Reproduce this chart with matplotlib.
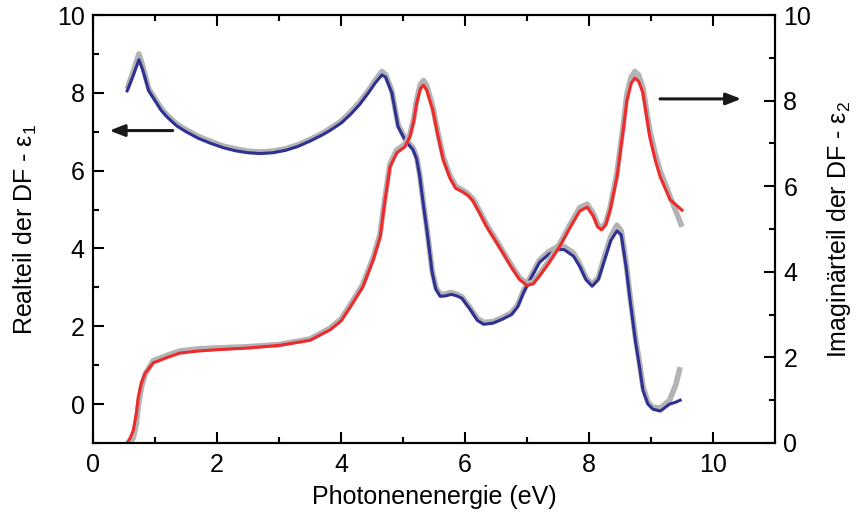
import numpy as np
import matplotlib
matplotlib.use('Agg')
import matplotlib.pyplot as plt
from matplotlib.ticker import MultipleLocator

plt.rcParams['font.family'] = ['Liberation Sans', 'DejaVu Sans']
plt.rcParams['mathtext.fontset'] = 'custom'
plt.rcParams['mathtext.rm'] = 'Liberation Sans'
plt.rcParams['mathtext.it'] = 'Liberation Sans'

# Realteil eps1: energy (eV), fit and measurement
e1_energy = [0.55, 0.65, 0.74, 0.80, 0.90, 1.0, 1.1, 1.2, 1.35, 1.5, 1.7, 1.9, 2.1, 2.3,
             2.5, 2.7, 2.9, 3.1, 3.3, 3.5, 3.7, 3.82, 4.0, 4.15, 4.3, 4.45, 4.55, 4.66,
             4.72, 4.82, 4.92, 5.03, 5.1, 5.16, 5.22, 5.27, 5.33, 5.39, 5.47, 5.53,
             5.6, 5.68, 5.78, 5.87, 5.95, 6.08, 6.2, 6.3, 6.45, 6.6, 6.75, 6.85, 6.94,
             7.05, 7.2, 7.35, 7.5, 7.6, 7.75, 7.85, 7.95, 8.05, 8.15, 8.25, 8.35, 8.45,
             8.52, 8.6, 8.66, 8.75, 8.82, 8.87, 8.95, 9.03, 9.15, 9.3, 9.4, 9.47]
e1_fit = [8.05, 8.45, 8.85, 8.6, 8.05, 7.8, 7.55, 7.37, 7.15, 7.0, 6.83, 6.7, 6.59, 6.51,
          6.46, 6.44, 6.46, 6.52, 6.62, 6.76, 6.92, 7.03, 7.22, 7.44, 7.7, 8.02, 8.25, 8.46,
          8.4, 8.0, 7.13, 6.79, 6.65, 6.54, 6.3, 5.85, 5.1, 4.41, 3.38, 2.95,
          2.77, 2.78, 2.82, 2.78, 2.72, 2.44, 2.15, 2.05, 2.08, 2.18, 2.3, 2.5, 2.85,
          3.2, 3.64, 3.85, 3.97, 3.97, 3.8, 3.54, 3.2, 3.03, 3.2, 3.7, 4.2, 4.45,
          4.35, 3.5, 2.7, 1.6, 0.9, 0.35, 0.0, -0.13, -0.18, 0.0, 0.05, 0.1]
e1_meas = [8.1, 8.55, 9.0, 8.7, 8.1, 7.85, 7.6, 7.42, 7.2, 7.05, 6.88, 6.75, 6.63, 6.56,
           6.5, 6.48, 6.5, 6.56, 6.66, 6.8, 6.96, 7.08, 7.27, 7.5, 7.76, 8.08, 8.32, 8.55,
           8.47, 8.05, 7.18, 6.84, 6.7, 6.59, 6.35, 5.9, 5.15, 4.46, 3.43, 3.0,
           2.82, 2.83, 2.87, 2.82, 2.76, 2.48, 2.2, 2.1, 2.12, 2.22, 2.35, 2.55, 2.9,
           3.25, 3.7, 3.92, 4.05, 4.05, 3.88, 3.6, 3.25, 3.08, 3.25, 3.8, 4.3, 4.6,
           4.45, 3.6, 2.8, 1.7, 1.0, 0.45, 0.05, -0.08, -0.1, 0.1, 0.5, 0.95]

# Imaginaerteil eps2
e2_energy = [0.55, 0.6, 0.65, 0.7, 0.73, 0.78, 0.84, 0.97, 1.2, 1.4, 1.7, 2.0, 2.5, 3.0,
             3.5, 3.82, 4.0, 4.15, 4.35, 4.52, 4.63, 4.71, 4.79, 4.9, 5.03, 5.11,
             5.17, 5.22, 5.28, 5.33, 5.38, 5.48, 5.56, 5.65, 5.76, 5.85, 5.97, 6.05,
             6.13, 6.25, 6.35, 6.5, 6.61, 6.75, 6.88, 7.0, 7.1, 7.2, 7.35, 7.53, 7.7,
             7.85, 7.97, 8.07, 8.14, 8.2, 8.27, 8.34, 8.45, 8.55, 8.61, 8.68, 8.74,
             8.8, 8.87, 8.98, 9.07, 9.15, 9.31, 9.5]
e2_fit = [0.0, 0.12, 0.3, 0.7, 1.07, 1.4, 1.63, 1.87, 2.0, 2.1, 2.15, 2.18, 2.22, 2.28,
          2.4, 2.64, 2.85, 3.18, 3.64, 4.28, 4.81, 5.68, 6.45, 6.78, 6.92, 7.15,
          7.5, 7.94, 8.28, 8.36, 8.25, 7.78, 7.2, 6.61, 6.18, 5.95, 5.86, 5.78,
          5.65, 5.33, 5.05, 4.7, 4.44, 4.1, 3.82, 3.68, 3.72, 3.9, 4.2, 4.6, 5.05,
          5.42, 5.51, 5.3, 5.05, 4.98, 5.1, 5.44, 6.21, 7.3, 8.0, 8.4, 8.53,
          8.45, 8.18, 7.15, 6.6, 6.21, 5.68, 5.44]
e2_meas = [0.0, 0.02, 0.12, 0.45, 0.85, 1.3, 1.6, 1.92, 2.05, 2.15, 2.2, 2.22, 2.25, 2.3,
           2.43, 2.68, 2.9, 3.23, 3.7, 4.34, 4.88, 5.75, 6.52, 6.85, 6.98, 7.2,
           7.56, 8.02, 8.38, 8.47, 8.36, 7.86, 7.27, 6.68, 6.24, 6.0, 5.9, 5.82,
           5.7, 5.38, 5.1, 4.75, 4.48, 4.15, 3.86, 3.72, 3.76, 3.95, 4.25, 4.66, 5.12,
           5.5, 5.58, 5.36, 5.1, 5.02, 5.15, 5.5, 6.3, 7.4, 8.15, 8.55, 8.68,
           8.6, 8.3, 7.3, 6.75, 6.35, 5.75, 5.05]

GREY = '#b3b3b5'
BLUE = '#2e3192'
RED = '#ee2a2a'

fig = plt.figure(figsize=(8.58, 5.25), dpi=100)
ax = fig.add_axes([0.1084, 0.1562, 0.7949, 0.8152])
ax2 = ax.twinx()

ax.plot(e1_energy, e1_meas, color=GREY, lw=4.0, solid_capstyle='butt', zorder=1)
ax2.plot(e2_energy, e2_meas, color=GREY, lw=4.0, solid_capstyle='butt', zorder=1)
ax.plot(e1_energy, e1_fit, color=BLUE, lw=2.2, zorder=2)
ax2.plot(e2_energy, e2_fit, color=RED, lw=2.2, zorder=2)

ax.set_xlim(0, 11)
ax.set_ylim(-1, 10)
ax2.set_ylim(0, 10)

for a in (ax, ax2):
    for s in a.spines.values():
        s.set_linewidth(1.5)
    a.tick_params(which='major', direction='in', length=8, width=1.5, labelsize=18)
    a.tick_params(which='minor', direction='in', length=4.5, width=1.5)
    a.yaxis.set_major_locator(MultipleLocator(2))
    a.yaxis.set_minor_locator(MultipleLocator(1))
ax.xaxis.set_major_locator(MultipleLocator(2))
ax.xaxis.set_minor_locator(MultipleLocator(1))
ax.tick_params(axis='x', which='both', top=True, pad=7)
ax.tick_params(axis='y', pad=6)
ax2.tick_params(axis='y', pad=6)

ax.set_xlabel('Photonenenergie (eV)', fontsize=18, labelpad=6)
ax.set_ylabel('Realteil der DF - ε$_1$', fontsize=18, labelpad=13)
ax2.set_ylabel('Imaginärteil der DF - ε$_2$', fontsize=18, labelpad=10)

arrow = dict(arrowstyle='-|>,head_length=0.9,head_width=0.35', color='#1a1a1a', lw=2.2)
ax.annotate('', xy=(0.22, 7.03), xytext=(1.33, 7.03), arrowprops=arrow)
ax2.annotate('', xy=(10.5, 8.04), xytext=(9.1, 8.04), arrowprops=arrow)

fig.savefig('out.png', dpi=100)
